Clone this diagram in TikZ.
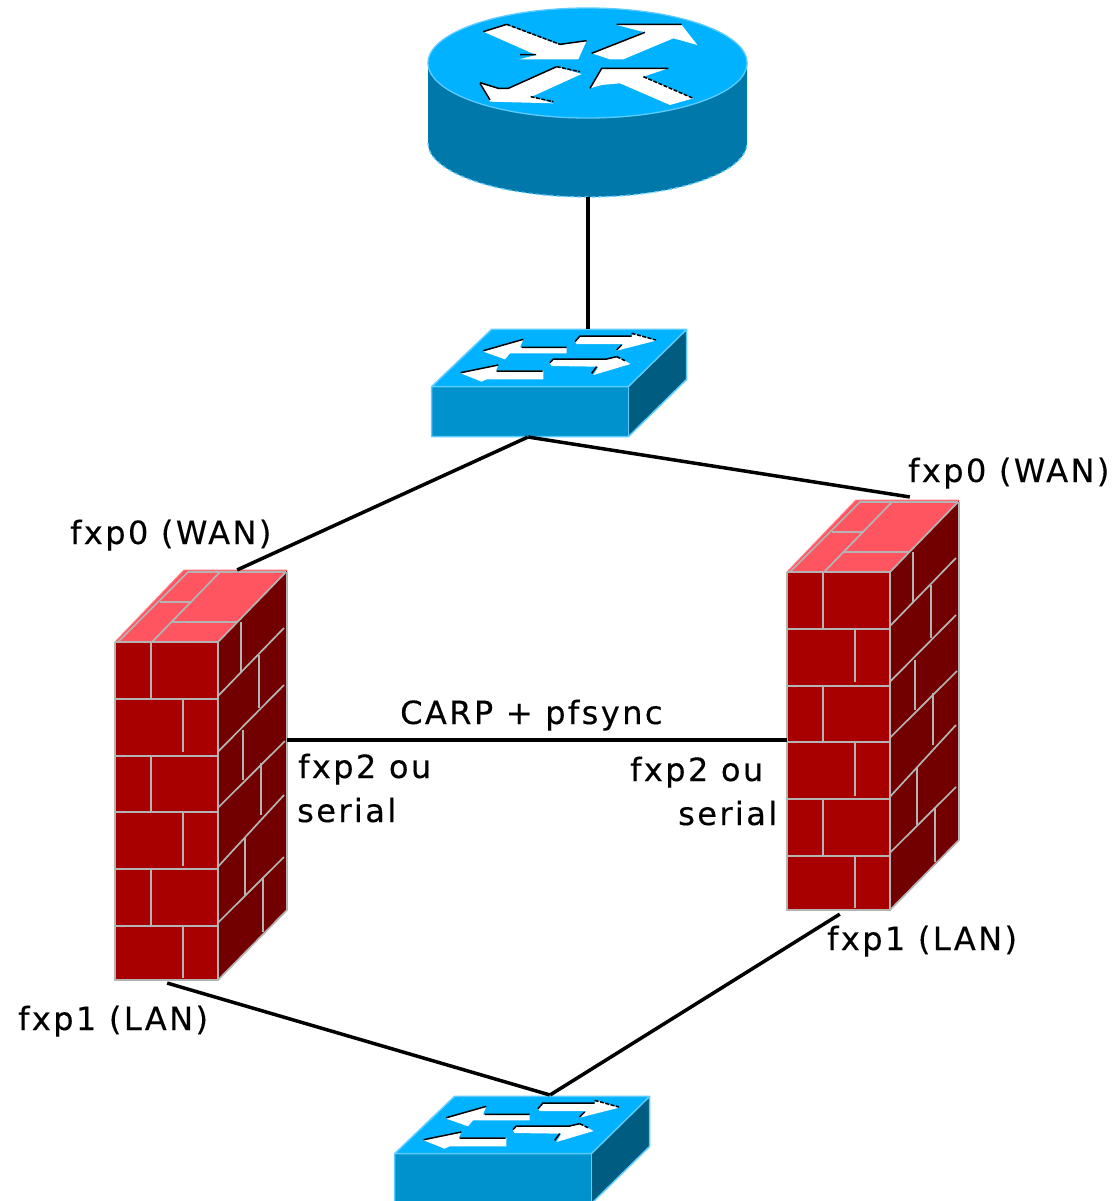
\documentclass[tikz,border=0pt]{standalone}
\usepackage{fontspec}
\newfontfamily\labfont[LetterSpace=7.6,FakeBold=0.3]{DejaVu Sans}
\definecolor{ciscotop}{HTML}{00B2FF}
\definecolor{routerside}{HTML}{0078AA}
\definecolor{switchfront}{HTML}{0092CC}
\definecolor{switchside}{HTML}{005C80}
\definecolor{ciscoedge}{HTML}{5CCBFF}
\definecolor{brickfront}{HTML}{A80000}
\definecolor{brickside}{HTML}{720000}
\definecolor{bricktop}{HTML}{FF5560}
\definecolor{mortar}{HTML}{B4B4B4}
\tikzset{
  link/.style={draw=black,line width=3.5pt},
  lab/.style={anchor=base west,inner sep=0pt,font=\labfont\fontsize{32}{36}\selectfont,text=black},
  whitearrow/.style={fill=white},
  inkedge/.style={draw=black,line width=1.5pt},
  inkdash/.style={draw=black,line width=1.5pt,dash pattern=on 4pt off 1.5pt},
  mortarline/.style={draw=mortar,line width=1.7pt},
  port/.style={inner sep=0pt,minimum size=0pt}
}
\newcommand{\fwallicon}[2]{%
\begin{scope}[shift={(#1,#2)}]
  \fill[brickfront] (115,642) rectangle (218,980);
  \fill[brickside] (218,642) -- (287,570) -- (287,910) -- (218,980) -- cycle;
  \fill[bricktop] (115,642) -- (184,570) -- (287,570) -- (218,642) -- cycle;
  \draw[bricktop!80!white,line width=1pt] (115,642) -- (184,570) -- (287,570);
  \draw[mortarline] (118,642) -- (188,572) -- (286,572);
  \draw[mortarline] (286,572) -- (218,642) -- (116,642);
  \draw[mortarline] (115,642) -- (115,980) -- (218,980) -- (287,910) -- (287,572);
  \draw[mortarline] (218,642) -- (218,980);
  % top
  \draw[mortarline] (220,572) -- (152,642);
  \draw[mortarline] (160,601.7) -- (192,601.7);
  \draw[mortarline] (172,621.7) -- (238,621.7);
  % front courses
  \foreach \yy in {699.3,755.7,811.7,869.3,925.7} \draw[mortarline] (116,\yy) -- (218,\yy);
  \draw[mortarline] (151,642) -- (151,699.3);
  \draw[mortarline] (183,699.3) -- (183,752);
  \draw[mortarline] (151,755.7) -- (151,811.7);
  \draw[mortarline] (183,811.7) -- (183,866);
  \draw[mortarline] (151,869.3) -- (151,925.7);
  \draw[mortarline] (183,925.7) -- (183,978);
  % side courses
  \draw[mortarline] (218,696) -- (284,628);
  \draw[mortarline] (218,751.7) -- (284,685);
  \draw[mortarline] (218,807.7) -- (285,741);
  \draw[mortarline] (218,866.7) -- (284,795);
  \draw[mortarline] (218,922.7) -- (284,857);
  \draw[mortarline] (241,622) -- (241,672);
  \draw[mortarline] (259.3,655) -- (259.3,708);
  \draw[mortarline] (243.3,730) -- (243.3,780);
  \draw[mortarline] (261,763) -- (261,815);
  \draw[mortarline] (245,838) -- (245,895);
  \draw[mortarline] (263,877) -- (263,932);
\end{scope}}
\newcommand{\switchicon}[2]{%
\begin{scope}[shift={(#1,#2)},x=0.33333pt,y=-0.33333pt]
  \fill[ciscotop] (35,200) -- (215,28) -- (800,28) -- (625,200) -- cycle;
  \fill[switchside] (625,200) -- (800,28) -- (800,178) -- (625,350) -- cycle;
  \fill[switchfront] (35,200) rectangle (625,350);
  \draw[ciscoedge,line width=1.5pt,line join=round] (35,200) -- (215,28) -- (800,28) -- (625,200) -- (35,200) -- (35,350) -- (625,350) -- (800,178) -- (800,28);
  \draw[ciscoedge,line width=1.5pt] (625,200) -- (625,350);
  % upper left arrow
  \fill[whitearrow] (190,95) -- (310,58) -- (300,82) -- (440,82) -- (440,100) -- (270,100) -- (255,118) -- cycle;
  \draw[inkedge] (190,92) -- (310,58) (305,82) -- (440,82);
  % upper right arrow
  \fill[whitearrow] (465,65) -- (480,48) -- (635,48) -- (640,40) -- (708,62) -- (590,92) -- (610,72) -- (470,72) -- cycle;
  \draw[inkedge] (465,65) -- (480,48) -- (635,48);
  \draw[inkdash] (635,40) -- (708,60);
  \draw[inkedge] (590,90) -- (605,75);
  % lower left arrow
  \fill[whitearrow] (122,160) -- (235,135) -- (228,152) -- (370,152) -- (370,178) -- (200,178) -- (185,185) -- cycle;
  \draw[inkedge] (122,158) -- (235,135) (230,153) -- (368,153);
  % lower right arrow
  \fill[whitearrow] (390,130) -- (400,118) -- (560,118) -- (590,110) -- (632,132) -- (520,165) -- (535,140) -- (395,138) -- cycle;
  \draw[inkedge] (390,128) -- (400,117) -- (560,117) -- (590,110);
  \draw[inkdash] (590,110) -- (615,122);
  \draw[inkedge] (515,160) -- (530,140);
\end{scope}}
\begin{document}
\begin{tikzpicture}[x=1pt,y=-1pt]
  \useasboundingbox (0,0) rectangle (1116,1201);
  \clip (0,0) rectangle (1116,1201);
  \fill[white] (0,0) rectangle (1116,1201);

  % router
  \fill[routerside] (428,63) -- (428,143) arc[start angle=180,end angle=360,x radius=159.5pt,y radius=54pt] -- (747,63) -- cycle;
  \draw[ciscoedge,line width=1.3pt,dash pattern=on 4pt off 3pt] (428,143) arc[start angle=180,end angle=360,x radius=159.5pt,y radius=54pt];
  \fill[ciscotop] (587.5,63) ellipse[x radius=159.5pt,y radius=55pt];
  \draw[ciscoedge,line width=1.3pt] (587.5,63) ellipse[x radius=159.5pt,y radius=55pt];
  \begin{scope}[shift={(410,0)},x=0.33333pt,y=-0.33333pt]
    \fill[whitearrow] (220,95) -- (290,75) -- (450,135) -- (530,122) -- (505,178) -- (328,178) -- (378,165) -- cycle;
    \draw[inkedge] (220,95) -- (290,73);
    \draw[inkdash] (290,73) -- (450,133);
    \draw[inkedge] (450,133) -- (530,122) (330,164) -- (378,164);
    \fill[whitearrow] (620,75) -- (815,75) -- (862,135) -- (790,115) -- (640,178) -- (600,178) -- (545,160) -- (705,97) -- cycle;
    \draw[inkedge] (620,73) -- (815,73) (545,160) -- (705,97);
    \fill[whitearrow] (210,250) -- (270,268) -- (295,265) -- (440,200) -- (515,222) -- (365,290) -- (430,310) -- (240,305) -- cycle;
    \draw[inkedge] (210,248) -- (265,265) -- (295,265) -- (440,200);
    \draw[inkdash] (440,200) -- (510,215);
    \draw[inkedge] (210,250) -- (240,300);
    \draw[inkdash] (362,290) -- (430,305);
    \fill[whitearrow] (540,265) -- (575,205) -- (775,205) -- (700,230) -- (850,295) -- (780,315) -- (630,250) -- (575,255) -- cycle;
    \draw[inkedge] (540,265) -- (575,205) -- (775,205);
    \draw[inkdash] (700,230) -- (850,295);
  \end{scope}

  \switchicon{420}{320}
  \switchicon{383}{1087}
  \fwallicon{0}{0}
  \fwallicon{672}{-70}

  % connector ends
  \node[port] (routerport) at (588,197) {};
  \node[port] (switchtop) at (588,329) {};
  \node[port] (switchbase) at (528,437) {};
  \node[port] (wanleft) at (237,570) {};
  \node[port] (wanright) at (910,497) {};
  \node[port] (syncleft) at (287,740) {};
  \node[port] (syncright) at (787,740) {};
  \node[port] (lanleft) at (167,983) {};
  \node[port] (lanright) at (840,914) {};
  \node[port] (lowerswitch) at (550,1095) {};

  \draw[link] (routerport) -- (switchtop);
  \draw[link] (switchbase) -- (wanleft);
  \draw[link] (switchbase) -- (wanright);
  \draw[link] (syncleft) -- (syncright);
  \draw[link] (lanleft) -- (lowerswitch);
  \draw[link] (lanright) -- (lowerswitch);

  % labels
  \node[lab] (t1) at (70,544) {fxp0 (WAN)};
  \node[lab] (t2) at (908,482) {fxp0 (WAN)};
  \node[lab] (t3) at (400,724) {CARP + pfsync};
  \node[lab] (t4) at (298,778) {fxp2 ou};
  \node[lab] (t5) at (297,822) {serial};
  \node[lab] (t6) at (630,781) {fxp2 ou};
  \node[lab] (t7) at (678,825) {serial};
  \node[lab] (t8) at (18,1030) {fxp1 (LAN)};
  \node[lab] (t9) at (827,950) {fxp1 (LAN)};
\end{tikzpicture}
\end{document}
